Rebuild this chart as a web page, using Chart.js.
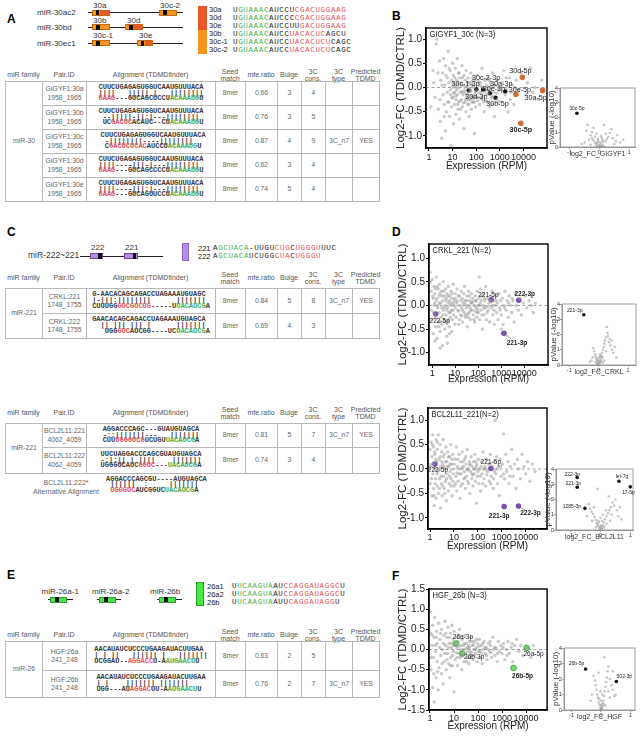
<!DOCTYPE html>
<html><head><meta charset="utf-8">
<script src="https://cdn.jsdelivr.net/npm/chart.js@4.4.1/dist/chart.umd.min.js"></script>
<style>
html,body{margin:0;padding:0;background:#fff;}
body{width:642px;height:736px;position:relative;overflow:hidden;font-family:"Liberation Sans",Arial,sans-serif;}
div{box-sizing:border-box;}
.t{position:absolute;white-space:nowrap;color:#333;}
.panel{position:absolute;font-weight:bold;font-size:12px;color:#000;line-height:12px;}
canvas{position:absolute;}
.hdr{position:absolute;font-size:7px;color:#555;text-align:center;line-height:7.5px;transform:translateX(-50%);white-space:nowrap;}
.cell{position:absolute;border:1px solid #b8b8b8;display:flex;align-items:center;justify-content:center;text-align:center;font-size:6.8px;color:#666;line-height:8.5px;}
.seq{font-family:"Liberation Mono",monospace;font-weight:bold;white-space:pre;font-size:7px;line-height:5.8px;color:#3a3a3a;text-align:left;}
.lseq{position:absolute;font-family:"Liberation Mono",monospace;white-space:pre;font-size:7.5px;line-height:8px;letter-spacing:0.65px;color:#222;}
.box{position:absolute;}
</style></head><body>
<script>
// ---------------- DATA ----------------
const xTickVals = [1, 10, 100, 1000, 10000];
const yTicksMain = [-1, -0.5, 0, 0.5, 1];
const yTicksF = [-1.5, -1, -0.5, 0, 0.5, 1, 1.5];
const volcXTicks = [-1, 0, 1];
const volcYTicks = [0, 1, 2, 3, 4];

// Panel B: GIGYF1_30c  [RPM, log2FC]
const bGrey = [[1.5,0.35],[1.8,-0.2],[2,0.9],[2.2,1.0],[2.5,-0.45],[2.8,0.55],[3,-0.7],[3.2,0.15],[3.5,-1.05],[3.8,0.3],[4,-0.15],[4.2,0.6],[4.5,-0.35],[4.8,0.05],[5,-0.9],[5,0.45],
[5.5,-0.5],[6,0.2],[6,-0.1],[6.5,0.75],[7,-0.3],[7,0.1],[7.5,-0.6],[8,0.35],[8,-0.05],[8.5,-1.2],[9,0.15],[9,-0.4],[10,0.5],[10,-0.2],[10,0.0],[11,-0.75],[11,0.25],[12,-0.1],[12,-0.35],[13,0.4],[13,0.05],[14,-0.25],[14,-0.55],[15,0.15],[15,-0.05],[16,0.6],[16,-0.15],[17,-0.45],[18,0.3],[18,-0.3],[19,0.0],[20,-0.65],[20,0.2],
[22,-0.1],[23,0.1],[24,-0.25],[25,0.45],[26,-0.4],[27,0.05],[28,-0.15],[30,-0.85],[30,0.25],[32,-0.05],[34,-0.3],[35,0.15],[37,-0.5],[38,0.35],[40,-0.2],[42,0.0],[44,-0.35],[45,0.2],[48,-0.1],[50,-0.6],[52,0.1],[55,-0.25],[58,0.3],[60,-0.05],[62,-0.45],[65,0.05],[70,-0.2],[72,0.2],[75,-0.3],[80,0.0],[85,-0.95],[88,-0.15],[90,0.15],[95,-0.4],
[105,-0.05],[110,0.25],[120,-0.2],[130,0.05],[140,-0.35],[150,0.1],[160,-0.1],[175,0.4],[180,-0.25],[200,0.0],[220,-0.5],[240,0.15],[260,-0.15],[280,0.05],[300,-0.3],[320,0.2],[350,-0.05],[380,-0.4],[400,0.1],[450,-0.2],[500,0.3],[550,-0.1],[600,-0.6],[650,0.05],[700,-0.25],[800,0.15],[900,-0.05],
[1100,-0.3],[1300,0.1],[1500,0.35],[1700,-0.15],[2000,0.0],[2200,-0.5],[2600,0.2],[3000,-0.1],[3500,0.05],[4000,-0.35],[5000,0.15],[6500,-0.05],[8000,0.3],[12000,-0.15],[15000,0.1],[20000,0.4],[25000,-0.1],[30000,0.0],[45000,-0.25],[60000,0.15],
[9.5,-0.22],[11.5,-0.12],[13.5,-0.18],[17,0.08],[21,-0.28],[24,-0.08],[29,-0.32],[33,0.02],[39,-0.14],[46,-0.26],[53,-0.02],[63,-0.17],[68,0.12],[78,-0.22],[92,-0.1],[115,-0.27],[135,-0.12],[165,0.02],[190,-0.18],[230,-0.08],[270,-0.28],[330,-0.13],[420,0.03],[520,-0.18],[750,-0.12],
[1.2,-0.4],[1.6,0.1],[2.4,0.3],[2.9,-0.25],[3.6,0.05],[4.4,-0.6],[5.2,0.25],[6.2,-0.3],[7.2,0.4],[8.2,-0.15],[10.5,0.1],[12.5,0.2],[14.5,0.0],[16.5,-0.35],[19,0.3],[22,-0.45],[26,0.2],[31,-0.1],[36,-0.25],[43,0.1],[49,-0.35],[57,-0.08],[66,-0.3],[74,0.05],[83,-0.3],[98,-0.2],[125,0.12],[155,-0.22],[210,-0.3],[290,-0.05],[360,0.15],[480,-0.35],[580,0.05],[850,-0.3],[1200,0.0],[1900,0.2],[2800,-0.25],[4500,0.0]];
const bBlackNames = ['30c-1-3p','30d-3p','30c-2-3p','30e-3p','30b-5p','30a-3p'];
const bBlackRPM = [48, 102, 196, 380, 660, 1700];
const bBlackFC = [-0.06, -0.04, -0.04, -0.12, -0.21, -0.08];
const bOrangeNames = ['30d-5p','30e-5p','30a-5p','30c-5p'];
const bOrangeRPM = [9100, 4800, 65000, 7800];
const bOrangeFC = [0.21, -0.14, -0.06, -0.74];
const bVolcGrey = [[-0.05,0.05],[0.02,0.1],[0.05,0.02],[-0.1,0.2],[0.1,0.15],[-0.15,0.3],[0.12,0.35],[-0.2,0.45],[0.2,0.4],[-0.25,0.6],[0.25,0.55],[-0.3,0.8],[0.3,0.7],[-0.1,0.9],[0.05,0.75],[-0.35,0.5],[0.35,0.95],[-0.45,1.1],[0.45,0.6],[-0.2,1.3],[0.15,1.5],[-0.5,0.3],[0.55,0.4],[0.6,0.8],[-0.6,0.2],[0.7,0.3],[0.8,0.5],[-0.05,0.55],[0.0,0.35],[-0.08,0.25],[0.08,0.6],[0.4,1.2],[-0.4,1.5],[0.5,0.2],[-0.3,0.15],[0.02,0.02],[0.1,0.45],[-0.15,0.7],[0.22,0.9],[-0.25,1.0],[-0.02,0.12],[0.04,0.25],[-0.06,0.4],[0.07,0.08],[-0.12,0.05],[0.15,0.05]];
const bVolcNames = ['30c-5p'];
const bVolcFC = [-0.76];
const bVolcP = [2.29];

// Panel D (top): CRKL_221
const dTopGrey = [[0.8,0.7],[0.85,0.5],[0.9,0.3],[0.9,-0.1],[1,0.55],[1,-0.3],[1.1,0.15],[1.1,-0.6],[1.2,0.4],[1.2,0.0],[1.3,-0.2],[1.3,0.25],[1.4,-0.45],[1.5,0.6],[1.5,0.1],[1.6,-0.7],[1.7,-0.05],[1.8,0.35],[1.8,-0.35],[2,0.2],[2,-0.15],[2.1,0.45],[2.2,-0.55],[2.3,0.05],[2.4,-0.25],[2.5,0.3],[2.6,-0.4],[2.8,0.1],[2.8,-0.85],[3,-0.1],[3,0.5],
[3.2,-0.3],[3.3,0.2],[3.5,-0.5],[3.6,0.0],[3.8,0.35],[4,-0.2],[4,0.1],[4.2,-0.65],[4.4,0.25],[4.6,-0.05],[4.8,-0.35],[5,0.4],[5,0.05],[5.3,-0.15],[5.5,-0.45],[5.8,0.2],[6,-0.25],[6.2,0.0],[6.5,0.3],[6.8,-0.1],[7,-0.55],[7.2,0.15],[7.5,-0.3],[8,0.05],[8.2,0.45],[8.5,-0.2],[9,0.1],[9.5,-0.4],[10,-0.05],[10,0.25],
[11,-0.25],[12,0.1],[12,0.35],[13,-0.1],[14,-0.4],[15,0.2],[16,0.0],[17,-0.2],[18,0.3],[19,-0.05],[20,0.15],[21,-0.35],[22,0.05],[24,-0.15],[25,0.4],[26,0.1],[28,-0.25],[30,-0.05],[32,0.2],[34,-0.45],[36,0.0],[38,0.3],[40,-0.15],[42,0.1],[45,-0.3],[48,0.05],[50,0.25],[53,-0.1],[56,0.15],[60,-0.2],[66,0.0],[70,-0.35],[74,0.2],[78,-0.05],[82,0.1],[86,-0.25],[90,0.3],[95,0.0],
[100,-0.15],[105,0.15],[110,0.6],[115,-0.3],[120,0.05],[125,0.35],[130,-0.1],[140,0.2],[150,-0.5],[160,0.0],[170,0.25],[180,-0.2],[190,0.1],[200,-0.05],[210,0.4],[230,-0.3],[250,0.15],[270,-0.1],[290,0.05],[310,-0.35],[340,0.2],[370,-0.05],[400,0.3],[430,-0.2],[460,0.1],[500,-0.4],[540,0.0],[580,0.2],[620,-0.15],[670,0.05],[720,-0.3],[780,0.25],[850,-0.05],[920,0.1],
[1000,-0.2],[1100,0.15],[1200,-0.4],[1300,0.0],[1450,0.3],[1600,-0.1],[1800,0.1],[2000,-0.25],[2200,0.2],[2500,0.0],[2800,-0.15],[3200,0.1],[3600,-0.35],[4000,0.25],[4500,0.0],[5500,-0.1],[6500,0.15],[7500,-0.2],[9000,0.05],[11000,0.2],[13000,-0.05],[16000,0.1],[20000,0.0],[25000,-0.15],[30000,0.05],
[2.2,-0.9],[4.5,-0.8],[1.3,-0.75],[5.5,-0.6],[1000,-0.5],[14,-0.12],[19,-0.22],[27,0.02],[35,-0.18],[44,-0.05],[58,0.08],[72,-0.12],[92,-0.08],[135,0.1],[175,-0.06],[260,-0.02],[330,0.08],[480,-0.1],
[1.05,0.2],[1.15,-0.15],[1.25,0.05],[1.35,0.35],[1.45,-0.25],[1.55,0.15],[1.65,0.4],[1.75,0.0],[1.9,-0.45],[2.05,0.05],[2.15,0.25],[2.35,-0.35],[2.55,-0.05],[2.7,0.2],[2.9,-0.2],[3.1,0.3],[3.4,-0.05],[3.7,-0.35],[3.9,0.15],[4.3,-0.1],[4.7,0.2],[5.1,-0.3],[5.6,0.1],[6.1,-0.15],[6.6,0.05],[7.1,0.25],[7.8,-0.1],[8.8,0.0],[9.8,0.15],[11.5,0.05],[13.5,0.2],[15.5,-0.3],[17.5,0.1],[20.5,-0.1],[23,0.25],[27,-0.2],[31,0.1],[37,-0.25],[41,0.2],[47,-0.1],[54,0.05],[64,-0.3],[76,0.1],[88,-0.15],[112,0.0],[145,-0.2],[185,0.15],[240,-0.15],[300,0.1],[420,0.0],[600,0.1],[900,-0.1],[1400,-0.05],[2100,0.05],[3000,0.15]];
const dTopNames = ['222-5p','221-5p','222-3p','221-3p'];
const dTopRPM = [1.4, 370, 5700, 1300];
const dTopFC = [-0.18, 0.12, 0.11, -0.59];
const dTopVolcGrey = [[0,0.05],[0.02,0.15],[-0.03,0.1],[0.05,0.3],[-0.05,0.25],[0.08,0.45],[-0.08,0.4],[0.1,0.6],[-0.1,0.55],[0.12,0.8],[-0.12,0.7],[0.15,1.0],[-0.15,0.9],[0.18,1.2],[-0.18,1.1],[0.2,1.4],[0.22,1.6],[0.25,1.8],[0.3,2.1],[0.35,1.5],[0.4,1.3],[0.45,1.0],[0.5,0.8],[0.28,2.5],[0.32,1.9],[0.38,1.7],[-0.2,0.5],[-0.25,0.3],[0.05,0.7],[0.0,0.5],[0.08,0.2],[-0.02,0.35],[0.14,0.5],[0.6,0.5],[0.55,1.2],[-0.3,0.2],[0.25,0.9],[0.2,0.3],[0.45,1.6],[0.15,0.15],[0.01,0.25],[-0.06,0.08],[0.04,0.12],[0.1,0.3],[-0.1,0.2],[0.06,0.55]];
const dTopVolcNames = ['221-3p'];
const dTopVolcFC = [-0.5];
const dTopVolcP = [3.3];

// Panel D (bottom): BCL2L11_221
const dBotGrey = [[1,0.4],[1,-0.3],[1.1,0.55],[1.1,0.1],[1.2,-0.55],[1.2,0.25],[1.3,-0.1],[1.3,0.7],[1.4,0.45],[1.4,-0.4],[1.5,0.0],[1.5,-0.75],[1.6,0.3],[1.7,-0.2],[1.8,0.6],[1.8,-0.6],[1.9,0.15],[2,-0.35],[2,0.4],[2.1,-0.05],[2.2,0.7],[2.3,-0.5],[2.4,0.2],[2.5,-0.2],[2.6,0.5],[2.7,-0.8],[2.8,0.05],[3,-0.3],[3,0.35],
[3.2,-0.55],[3.4,0.1],[3.5,0.6],[3.7,-0.15],[3.9,-0.4],[4,0.3],[4.2,0.0],[4.4,-0.25],[4.6,0.45],[4.8,-0.65],[5,0.15],[5.2,-0.1],[5.5,0.35],[5.8,-0.45],[6,0.05],[6.3,-0.3],[6.6,0.25],[7,-0.05],[7.3,0.5],[7.6,-0.2],[8,0.1],[8.4,-0.55],[8.8,0.3],[9.2,-0.1],[9.6,0.0],[10,-0.35],
[11,0.2],[12,-0.15],[12.5,0.45],[13,-0.45],[14,0.05],[15,-0.25],[16,0.3],[17,0.0],[18,-0.6],[19,0.15],[20,-0.1],[22,0.35],[23,-0.3],[25,0.05],[27,-0.05],[28,0.2],[30,-0.4],[32,0.1],[34,-0.15],[36,0.4],[38,-0.25],[40,0.0],[43,0.15],[46,-0.5],[49,-0.05],[52,0.25],[55,-0.2],[58,0.05],[62,-0.35],[66,0.15],[70,-0.1],[74,0.3],[78,-0.25],[82,0.0],[88,-0.7],[92,0.1],[96,-0.15],
[105,0.2],[110,-0.3],[120,0.0],[130,-0.45],[140,0.15],[150,-0.1],[165,0.35],[180,-0.2],[195,0.05],[210,-0.35],[230,0.2],[250,-0.05],[275,0.1],[300,-0.25],[330,0.3],[360,-0.15],[400,0.05],[440,-0.4],[480,0.15],[520,1.0],[560,-0.1],[610,0.25],[660,-0.3],[720,0.05],[790,-0.55],[860,0.2],[940,-0.15],
[1050,0.1],[1170,0.72],[1300,-0.2],[1450,0.3],[1600,-0.05],[1800,0.15],[2000,-0.3],[2300,0.05],[2600,0.4],[3000,-0.15],[3400,0.1],[3900,-0.4],[4500,0.2],[5200,0.0],[6000,-0.2],[7000,0.3],[8500,0.05],[10000,-0.1],[12000,0.15],[15000,-0.25],[19000,0.1],[25000,-0.05],
[13.5,-0.08],[21,0.02],[29,-0.18],[37,-0.02],[45,0.08],[60,-0.12],[85,0.05],[125,-0.15],[170,0.0],[240,-0.12],[350,-0.3],[500,-0.05],
[1.05,0.05],[1.15,-0.2],[1.25,0.5],[1.35,0.1],[1.45,-0.55],[1.55,0.35],[1.65,-0.3],[1.75,0.2],[1.95,-0.1],[2.05,0.55],[2.25,0.0],[2.45,-0.4],[2.65,0.25],[2.9,-0.15],[3.1,0.15],[3.3,-0.35],[3.6,0.25],[3.8,0.05],[4.1,-0.5],[4.5,0.15],[4.9,-0.2],[5.4,0.05],[5.9,0.25],[6.4,-0.15],[6.9,0.1],[7.5,-0.35],[8.2,0.2],[9,-0.25],[10.5,0.1],[11.5,-0.3],[14.5,0.2],[16.5,-0.1],[19.5,-0.35],[24,0.15],[26,-0.2],[31,0.25],[35,0.0],[41,-0.3],[48,0.1],[57,-0.1],[68,0.0],[80,0.15],[100,-0.05],[135,0.05],[160,-0.3],[220,0.0],[320,0.1],[450,-0.2],[650,0.0],[900,0.05],[1200,-0.1],[2200,-0.15]];
const dBotNames = ['222-5p','221-5p','221-3p','222-3p'];
const dBotRPM = [1.6, 350, 1260, 5000];
const dBotFC = [0.10, 0.01, -0.77, -0.76];
const dBotVolcGrey = [[0,0.05],[0.03,0.15],[-0.04,0.12],[0.07,0.3],[-0.08,0.28],[0.1,0.5],[-0.12,0.45],[0.15,0.7],[-0.16,0.65],[0.2,0.9],[-0.2,0.85],[0.25,1.1],[-0.25,1.05],[0.3,1.3],[-0.3,1.2],[0.35,1.5],[-0.35,1.4],[0.4,1.8],[0.45,1.6],[0.5,2.0],[-0.4,1.7],[0.55,1.3],[0.6,0.9],[-0.05,0.5],[0.05,0.6],[0.12,0.25],[-0.15,0.2],[0.2,0.4],[-0.22,1.5],[0.32,0.6],[-0.1,2.7],[0.38,1.0],[-0.28,0.6],[0.0,0.8],[0.08,1.0],[0.18,1.3],[0.28,2.2],[-0.45,0.9],[0.65,1.5],[0.7,0.7],[0.02,0.3],[-0.02,0.2],[0.05,0.08],[-0.07,0.6],[0.1,0.15],[-0.1,0.35]];
const dBotVolcNames = ['222-3p','221-3p','1285-3p','let-7g','17-5p'];
const dBotVolcFC = [-0.78, -0.78, -0.52, 0.62, 1.0];
const dBotVolcP = [3.44, 2.8, 1.42, 3.2, 2.83];

// Panel F: HGF_26b
const fGrey = [[1,0.95],[1.1,0.4],[1.1,-0.5],[1.2,0.1],[1.3,-0.95],[1.3,0.6],[1.4,-0.2],[1.5,0.3],[1.5,-1.3],[1.6,0.8],[1.7,-0.05],[1.8,-0.7],[1.9,0.45],[2,-0.3],[2,0.15],[2.2,-1.0],[2.3,0.65],[2.4,-0.45],[2.6,0.25],[2.8,-0.15],[3,0.5],[3,-0.6],
[3.3,0.0],[3.5,-0.85],[3.7,0.35],[4,-0.3],[4.2,0.7],[4.5,0.1],[4.8,-0.5],[5,0.3],[5.3,-0.1],[5.6,0.55],[6,-0.35],[6.3,0.15],[6.7,-0.7],[7,0.4],[7.4,-0.2],[7.8,0.05],[8.2,0.6],[8.6,-0.4],[9,0.25],[9.5,-0.05],[10,0.45],[10,-1.05],
[11,-0.25],[12,0.3],[13,0.05],[14,-0.4],[15,0.2],[16,-0.1],[17,0.5],[18,-0.2],[19,0.1],[21,-0.5],[22,0.25],[24,0.0],[26,-0.3],[28,0.35],[30,-0.1],[32,0.15],[35,-0.2],[38,0.05],[41,-0.35],[44,0.2],[47,-0.05],[50,0.3],[54,-0.15],[58,0.1],[62,-0.25],[67,0.0],[72,0.2],[78,-0.1],[84,0.05],[90,-0.3],[96,0.15],
[105,-0.05],[115,0.25],[125,-0.2],[135,0.1],[150,-0.35],[165,0.0],[180,0.2],[200,-0.1],[220,0.05],[240,-0.25],[270,0.15],[300,-0.05],[330,0.1],[370,-0.2],[410,0.3],[450,0.0],[500,-0.15],[560,0.05],[620,-0.3],[700,0.2],[780,-0.05],[870,0.1],
[1000,-0.1],[1150,0.15],[1300,-0.25],[1500,0.0],[1750,0.2],[2000,-0.1],[2400,0.05],[2800,-0.3],[3300,0.1],[4000,0.25],[5000,-0.05],[6000,0.1],[7500,-0.15],[9000,0.0],[12000,0.05],[16000,-0.2],[20000,0.1],
[12.5,-0.08],[15.5,0.08],[20,-0.12],[25,0.1],[31,0.02],[36,-0.05],[43,0.05],[52,-0.08],[65,0.12],[80,0.0],[110,0.08],[145,-0.1],[190,0.05],[260,0.0],[350,-0.08],
[1.05,-0.2],[1.25,0.35],[1.45,-0.6],[1.65,0.1],[1.85,0.3],[2.1,-0.55],[2.5,0.05],[2.7,0.4],[3.2,-0.35],[3.6,0.15],[4.1,-0.1],[4.6,0.4],[5.1,-0.25],[5.8,0.05],[6.5,0.3],[7.2,-0.4],[8,0.15],[8.8,-0.15],[9.7,0.1],[11.5,0.15],[13.5,-0.2],[16.5,0.35],[18.5,0.0],[23,-0.15],[27,0.15],[33,-0.3],[40,0.1],[46,-0.2],[56,0.2],[70,-0.15],[88,0.25],[120,-0.05],[160,0.15],[230,-0.15],[320,0.2],[480,0.05],[650,-0.1],[1100,0.05],[1600,-0.15],[2600,0.15]];
const fNames = ['26a-3p','26b-3p','26a-5p','26b-5p'];
const fRPM = [12, 22, 10500, 3000];
const fFC = [0.15, -0.10, 0.04, -0.46];
const fVolcGrey = [[0,0.05],[0.02,0.2],[-0.03,0.15],[0.05,0.4],[-0.05,0.35],[0.08,0.6],[-0.08,0.5],[0.1,0.9],[-0.1,0.8],[0.12,1.2],[-0.12,1.0],[0.15,1.5],[-0.15,1.3],[0.18,1.8],[-0.18,1.6],[0.2,2.1],[-0.2,1.9],[0.22,2.5],[0.25,2.8],[0.11,3.4],[-0.25,2.2],[0.3,2.0],[0.35,1.6],[0.4,1.3],[-0.3,1.0],[0.05,1.0],[0.0,0.6],[-0.02,1.2],[0.3,0.8],[0.45,0.9],[-0.35,0.6],[0.15,0.3],[0.25,1.2],[-0.08,2.4],[0.4,2.5],[0.5,1.0],[0.01,0.1],[-0.01,0.3],[0.03,0.05],[0.07,0.25],[-0.06,0.7],[0.09,0.4]];
const fVolcNames = ['26b-5p','502-3p'];
const fVolcFC = [-0.52, 0.52];
const fVolcP = [2.64, 1.84];

// Tables
const hdrs = ['miR family','Pair.ID','Alignment (TDMDfinder)','Seed<br>match','mfe.ratio','Bulge','3C<br>cons.','3C<br>type','Predicted<br>TDMD'];
const tableA = [['GIGYF1:30a','1958_1965','8mer','0.66','3','4','',''],['GIGYF1:30b','1958_1965','8mer','0.76','3','5','',''],['GIGYF1:30c','1958_1965','8mer','0.87','4','9','3C_n7','YES'],['GIGYF1:30d','1958_1965','8mer','0.62','3','4','',''],['GIGYF1:30e','1958_1965','8mer','0.74','5','4','','']];
const alnA = [
 ['CUUCUGAGAGUGGUCAAUGUUUACA','||||   ||||| |   ||||||||','[r:GAAG]---GUCAGCUCCU[g:ACAAAUG]U'],
 ['CUUCUGAGAGUGGUCAAUGUUUACA',' --|||||-||:|---||||||||',' UC[r:GACUC]ACAUC--CU[g:ACAAAUG]U'],
 [' CUUCUGAGAGUGGUCAAUGUUUACA','  -||||||||----||||||||','  C[r:GACUCUCAC]AUCCU[g:ACAAAUG]U'],
 ['CUUCUGAGAGUGGUCAAUGUUUACA','||||----|||-|---||||||||','[r:GAAG]---GUCAGCCCCU[g:ACAAAUG]U'],
 ['CUUCUGAGAGUGGUCAAUGUUUACA','||||----|||:|---||||||||','[r:GAAG]---GUCAGUUCCU[g:ACAAAUG]U']];
const tableC = [['CRKL:221','1748_1755','8mer','0.84','5','8','3C_n7','YES'],['CRKL:222','1748_1755','8mer','0.69','4','3','','']];
const alnC = [
 ['G-AACACAGCAGACCUAGAAAUGUAGC','|-|||:||||||||      |||||||','CUUUGG[r:GUCGUCUG]-----U[g:UACAUCG]A'],
 ['GAACACAGCAGACCUAGAAAUGUAGCA','  || ||| ||| |      |||||||','   UGG[r:GUC]AUCGG----UC[g:UACAUCG]A']];
const tableD = [['BCL2L11:221','4062_4059','8mer','0.81','5','7','3C_n7','YES'],['BCL2L11:222','4062_4059','8mer','0.74','3','4','','']];
const alnD = [
 ['AGGACCCAGC---GUAUGUAGCA','-::|||||||---   |||||||','CUU[r:UGGGUCG]UCUGU[g:UACAUCG]A'],
 ['UUCUAGGACCCAGCGUAUGUAGCA','-:|:|| | ||||    |||||||','UGGGUCAUC[r:GGUC]---[g:UACAUCG]A']];
const alnAlt = ['AGGACCCAGCGU----AUGUAGCA',' ||||||  :     |||||||',' [r:UGGGUC]AUCGGUC[g:UACAUCG]A'];
const tableE = [['HGF:26a','241_248','8mer','0.63','2','5','',''],['HGF:26b','241_248','8mer','0.76','2','7','3C_n7','YES']];
const alnE = [
 ['AACAUAUCUCCCUGAAGAUACUUGAA','| | ||   |||||| |   |||||||','UCGGAU--[r:AGGACC]U-A[g:AUGAACU]U'],
 ['AACAUAUCUCCCUGAAGAUACUUGAA','| |    ||||||| |||||||','UGG---AU[r:AGGAC]UU-A[g:AUGAACU]U']];

// Mature sequence legends
const seqA = [['30a','U[g:GUAAAC]AUCCU[r:CGACUGGAAG]'],['30d','U[g:GUAAAC]AUCCC[r:CGACUGGAAG]'],['30e','U[g:GUAAAC]AUCCUU[r:GACUGGAAG]'],['30b','U[g:GUAAAC]AUCC[r:UACACUC]AGCU'],['30c-1','U[g:GUAAAC]AUCC[r:UACACUCU]CAGC'],['30c-2','U[g:GUAAAC]AUCC[r:UACACUCU]CAGC']];
const seqC = [['221','A[g:GCUACA]-UUGU[r:CUG]C[r:UGGGU]UUC'],['222','A[g:GCUACA]UCUGG[r:CUA]C[r:UGGGU]']];
const seqE = [['26a1','U[g:UCAAGUA]AU[r:CCAGGAUAGGC]U'],['26a2','U[g:UCAAGUA]AU[r:CCAGGAUAGGC]U'],['26b','U[g:UCAAGUA]AUU[r:CAGGAUAGG]U']];

// ---------------- LAYOUT / STYLE ----------------
const FONT = '"Liberation Sans", Arial, sans-serif';
const RED = '#e2505c', GREEN = '#49ad4e';
const ORANGE_PT = '#cf6d34', PURPLE_PT = '#7a52b0';
const colX = [5, 42, 86, 215, 245, 277, 301, 325, 352, 379];

function mk(s){ return s.replace(/\[(r|g):([^\]]+)\]/g,(m,c,t)=>'<span style="color:'+(c==='r'?RED:GREEN)+'">'+t+'</span>'); }
function div(cls, style, html){ const d=document.createElement('div'); if(cls) d.className=cls; Object.assign(d.style, style); if(html!==undefined) d.innerHTML=html; document.body.appendChild(d); return d; }
function px(v){ return v+'px'; }
function alnHTML(a){ return '<div class="seq">'+a.map(l=>'<div>'+mk(l)+'</div>').join('')+'</div>'; }

function table(hy, ys, fam, rows, alns){
  hdrs.forEach((h,i)=>{
    const cx=(colX[i]+colX[i+1])/2, two=h.indexOf('<br>')>=0;
    div('hdr',{left:px(cx),top:px(hy-(two?7.5:3.75))},h);
  });
  div('cell',{left:px(colX[0]),top:px(ys[0]),width:px(colX[1]-colX[0]+1),height:px(ys[ys.length-1]-ys[0]+1)},fam);
  rows.forEach((r,ri)=>{
    const vals=[r[0]+'<br>'+r[1], alnHTML(alns[ri]), r[2], r[3], r[4], r[5], r[6], r[7]];
    vals.forEach((v,ci)=>{
      const c=ci+1;
      div('cell',{left:px(colX[c]),top:px(ys[ri]),width:px(colX[c+1]-colX[c]+1),height:px(ys[ri+1]-ys[ri]+1)},v);
    });
  });
}
function text(x,y,s,size,extra){ return div('t',Object.assign({left:px(x),top:px(y-size*0.6),fontSize:px(size),lineHeight:px(size*1.2)},extra||{}),s); }
function hline(x1,x2,y,c){ div('box',{left:px(x1),top:px(y-0.5),width:px(x2-x1),height:'1px',background:c||'#222'}); }
function rect(x,y,w,h,bg,border){ return div('box',{left:px(x),top:px(y),width:px(w),height:px(h),background:bg,border:border||'none'}); }
function seqLines(nameX, seqX, y0, dy, list, nameSize){
  list.forEach((s,i)=>{
    const y=y0+i*dy;
    text(nameX,y,s[0],nameSize||7.5,{color:'#222'});
    div('lseq',{left:px(seqX),top:px(y-4)},mk(s[1]));
  });
}

// Panel letters
[['A',7,13],['B',392,10],['C',7,226],['D',392,226],['E',7,569],['F',392,570]].forEach(p=>div('panel',{left:px(p[1]),top:px(p[2])},p[0]));

// ---- Panel A gene diagrams ----
const OR='#f7941d', RO='#e8562a';
function gene30(x,y,w,red){
  rect(x,y-3,w,6,OR,'0.5px solid #c46a0c');
  if(red) rect(x+8,y-2,w-9,4,RO);
  rect(x+4,y-2.5,3.8,5,'#111');
}
[['miR-30ac2',12.7],['miR-30bd',27.3],['miR-30ec1',43.3]].forEach(r=>{ text(37,r[1],r[0],8,{color:'#333'}); hline(88,183,r[1]); });
gene30(91.7,12.7,18.3,true); gene30(159.3,12.7,17.3,false);
gene30(92,27.3,18,false); gene30(125,27.3,18,true);
gene30(92,43.3,18,false); gene30(136.7,43.3,16.5,true);
[['30a',93,5.5],['30c-2',160,5.5],['30b',93,20.5],['30d',127,20.5],['30c-1',93,36],['30e',139,36]].forEach(l=>text(l[1],l[2],l[0],8,{color:'#333'}));
rect(198.3,5.5,9,24,RO); rect(198.3,29.5,9,24,OR);
seqLines(209,233,9.5,8,seqA,7.5);

// ---- Panel C gene diagram ----
text(28,255,'miR-222~221',8.5,{color:'#333'});
hline(80,163,256);
rect(90,252.5,13.3,6.5,'#b48ae4','0.6px solid #6d4b99'); rect(98.3,253,3.4,5.5,'#111');
rect(124,252.5,14.3,6.5,'#b48ae4','0.6px solid #6d4b99'); rect(132.7,253,3.4,5.5,'#111');
text(91,247.5,'222',8,{color:'#333'}); text(125,247.5,'221',8,{color:'#333'});
rect(181.7,243,7.8,18,'#b68ee8','0.6px solid #8c67c0');
seqLines(198,213,248,8,seqC,7.5);

// ---- Panel E gene diagrams ----
function gene26(label,lx,lineX1,lineX2,bx,bw){
  text(lx,592,label,8,{color:'#333'});
  hline(lineX1,lineX2,599.3);
  rect(bx,596.5,bw,6,'#4fe04f','0.6px solid #2f9a2f');
  rect(bx+5,597,3.6,5,'#111');
}
gene26('miR-26a-1',41.5,48.3,73.3,50,16.7);
gene26('miR-26a-2',92,97.3,120.7,99,16.7);
gene26('miR-26b',150,156.7,181.7,159.3,16.7);
rect(196,581.5,8,24,'#44ea44','0.6px solid #2c9c2c');
seqLines(207,232,586,8,seqE,7.5);

// ---- Tables ----
table(75, [81,105,129,153,177,201], 'miR-30', tableA, alnA);
table(278, [288,313,338], 'miR-221', tableC, alnC);
table(413, [423,447,473], 'miR-221', tableD, alnD);
div('t',{left:'25px',top:'479px',width:'82px',textAlign:'center',fontSize:'7px',lineHeight:'8.5px',color:'#666'},'BCL2L11:222*<br>Alternative Alignment');
div('t',{left:'106px',top:'476.5px'},alnHTML(alnAlt));
table(635, [641,670,697], 'miR-26', tableE, alnE);

// ---------------- CHARTS ----------------
let plugN = 0;
function makeCanvas(left, top, W, H){
  const cv=document.createElement('canvas');
  cv.width=W; cv.height=H;
  Object.assign(cv.style,{left:px(left),top:px(top),width:px(W),height:px(H)});
  document.body.appendChild(cv);
  return cv;
}
function overlay(o){
  plugN++;
  return {
    id:'ov'+plugN,
    beforeDatasetsDraw(chart){
      if(!o.zero) return;
      const {ctx, chartArea:a, scales:{y}} = chart;
      const py=y.getPixelForValue(0);
      ctx.save(); ctx.strokeStyle='#8a8a8a'; ctx.lineWidth=0.8; ctx.setLineDash([3,2.5]);
      ctx.beginPath(); ctx.moveTo(a.left,py); ctx.lineTo(a.right,py); ctx.stroke(); ctx.restore();
    },
    afterDatasetsDraw(chart){
      const {ctx, chartArea:a, scales:{x,y}} = chart;
      ctx.save();
      ctx.strokeStyle=o.frameColor; ctx.lineWidth=o.frameWidth;
      ctx.strokeRect(a.left, a.top, a.right-a.left, a.bottom-a.top);
      if(o.title){
        ctx.save(); ctx.fillStyle='#222'; ctx.font=o.titleSize+'px '+FONT; ctx.textBaseline='top'; ctx.textAlign='left';
        ctx.translate(a.left+3.5, a.top+2); ctx.scale(0.8,1); ctx.fillText(o.title,0,0); ctx.restore();
      }
      (o.labels||[]).forEach(l=>{
        const pxv=x.getPixelForValue(l.x), pyv=y.getPixelForValue(l.y);
        if(l.leader){ ctx.strokeStyle='#555'; ctx.lineWidth=0.6; ctx.beginPath(); ctx.moveTo(pxv,pyv); ctx.lineTo(pxv+l.dx*0.55,pyv+l.dy*0.55); ctx.stroke(); }
        ctx.font=(l.bold?'bold ':'')+o.labelSize+'px '+FONT;
        ctx.fillStyle='#1a1a1a'; ctx.textAlign='center'; ctx.textBaseline='middle';
        ctx.fillText(l.name, pxv+l.dx, pyv+l.dy);
      });
      ctx.restore();
    }
  };
}
function buildLabels(names, xs, ys, pos){
  return names.map((n,i)=>{ const p=pos[n]||[0,-6,0,0]; return {name:n,x:xs[i],y:ys[i],dx:p[0],dy:p[1],bold:!!p[2],leader:!!p[3]}; });
}

function mainChart(c){
  const yw=46, xh=36, padT=8, padR=4;
  const left=Math.round(c.area.l-yw), top=Math.round(c.area.t-padT);
  const W=Math.round(c.area.r+padR)-left, H=Math.round(c.area.b+xh)-top;
  const cv=makeCanvas(left,top,W,H);
  const tickFont=9, tY=11.5, tX=10;
  const datasets=[{data:c.grey.map(p=>({x:p[0],y:p[1]})), backgroundColor:'rgba(150,150,150,0.5)', pointRadius:1.7, borderWidth:0}];
  c.hi.forEach(h=>datasets.push({data:h.x.map((v,i)=>({x:v,y:h.y[i]})), backgroundColor:h.color, borderColor:h.border||h.color, borderWidth:h.border?0.9:0, pointRadius:h.r||2.6}));
  new Chart(cv,{type:'scatter',data:{datasets},options:{
    responsive:false, animation:false, devicePixelRatio:1, events:[],
    layout:{padding:{left:0,top:padT,right:padR,bottom:0}},
    plugins:{legend:{display:false},tooltip:{enabled:false}},
    scales:{
      x:{type:'logarithmic',bounds:'data',min:c.xMin,max:c.xMax,
        afterBuildTicks:s=>{s.ticks=xTickVals.map(v=>({value:v}));},
        afterFit:s=>{s.height=xh;},
        ticks:{autoSkip:false,maxRotation:0,minRotation:0,font:{size:tickFont,family:FONT},color:'#222',padding:Math.max(0,c.xLabelTop-c.area.b-3),callback:v=>String(v)},
        grid:{drawOnChartArea:false,drawTicks:true,tickLength:3,color:'#000',lineWidth:1},
        border:{display:true,color:'#000',width:1.4},
        title:{display:true,text:'Expression (RPM)',color:'#222',font:{size:tX,family:FONT},padding:{top:0,bottom:(top+H)-c.xTitleY-tX*0.6}}
      },
      y:{type:'linear',bounds:'data',min:c.yMin,max:c.yMax,
        afterBuildTicks:s=>{s.ticks=c.yTicks.map(v=>({value:v}));},
        afterFit:s=>{s.width=yw;},
        ticks:{font:{size:10,family:FONT},color:'#222',padding:1,callback:v=>v.toFixed(1)},
        grid:{drawOnChartArea:false,drawTicks:true,tickLength:3,color:'#000',lineWidth:1},
        border:{display:true,color:'#000',width:1.4},
        title:{display:true,text:'Log2-FC (TDMD/CTRL)',color:'#222',font:{size:tY,family:FONT},padding:{top:c.yTitleX-left-tY*0.6,bottom:0}}
      }
    }},
    plugins:[overlay({zero:true,frameColor:'#000',frameWidth:1.4,title:c.title,titleSize:9.5,labels:c.labels,labelSize:c.labelSize})]
  });
}

function volcChart(c){
  const yw=16, xh=16, padT=5, padR=3;
  const left=Math.round(c.area.l-yw), top=Math.round(c.area.t-padT);
  const W=Math.round(c.area.r+padR)-left, H=Math.round(c.area.b+xh)-top;
  const cv=makeCanvas(left,top,W,H);
  const datasets=[
    {data:c.grey.map(p=>({x:p[0],y:p[1]})), backgroundColor:'rgba(160,160,160,0.6)', pointRadius:1.3, borderWidth:0},
    {data:c.hx.map((v,i)=>({x:v,y:c.hy[i]})), backgroundColor:'#111', pointRadius:1.8, borderWidth:0}
  ];
  new Chart(cv,{type:'scatter',data:{datasets},options:{
    responsive:false, animation:false, devicePixelRatio:1, events:[],
    layout:{padding:{left:0,top:padT,right:padR,bottom:0}},
    plugins:{legend:{display:false},tooltip:{enabled:false}},
    scales:{
      x:{type:'linear',bounds:'data',min:c.xMin,max:c.xMax,
        afterBuildTicks:s=>{s.ticks=volcXTicks.map(v=>({value:v}));},
        afterFit:s=>{s.height=xh;},
        ticks:{autoSkip:false,maxRotation:0,font:{size:6,family:FONT},color:'#444',padding:0,callback:v=>String(v)},
        grid:{drawOnChartArea:false,drawTicks:true,tickLength:2,color:'#777',lineWidth:0.7},
        border:{display:true,color:'#888',width:0.8},
        title:{display:true,text:c.xTitle,color:'#333',font:{size:7,family:FONT},padding:{top:0,bottom:(top+H)-(c.area.b+8)-3.5}}
      },
      y:{type:'linear',bounds:'data',min:0,max:4,
        afterBuildTicks:s=>{s.ticks=volcYTicks.map(v=>({value:v}));},
        afterFit:s=>{s.width=yw;},
        ticks:{font:{size:6,family:FONT},color:'#444',padding:0,callback:v=>String(v)},
        grid:{drawOnChartArea:false,drawTicks:true,tickLength:2,color:'#777',lineWidth:0.7},
        border:{display:true,color:'#888',width:0.8},
        title:{display:true,text:'pValue (-log10)',color:'#333',font:{size:8,family:FONT},padding:{top:(c.area.l-8)-left-4.8,bottom:0}}
      }
    }},
    plugins:[overlay({zero:false,frameColor:'#888',frameWidth:0.8,labels:c.labels,labelSize:5})]
  });
}

// Label placement (pixel offsets from point: dx, dy, bold, leader)
const labelPos = {
  B:{'30c-1-3p':[-3,-6],'30d-3p':[0,8],'30c-2-3p':[3,-11],'30e-3p':[4,-4],'30b-5p':[2,6],'30a-3p':[-4,-7],'30d-5p':[-2,-6],'30e-5p':[4,-4],'30a-5p':[-7,8],'30c-5p':[0,7,1]},
  Dt:{'222-5p':[4,7],'221-5p':[-3,-5],'222-3p':[6,-6,1],'221-3p':[13,10,1,1]},
  Db:{'222-5p':[3,6],'221-5p':[0,-6],'221-3p':[-5,10,1],'222-3p':[12,7,1,1]},
  F:{'26a-3p':[7,-6],'26b-3p':[12,4],'26a-5p':[7,6],'26b-5p':[9,8,1]},
  vB:{'30c-5p':[0,-5]},
  vDt:{'221-3p':[-9,-4]},
  vDb:{'222-3p':[-5,-3],'221-3p':[-4,-3.5],'1285-3p':[-13,-2],'let-7g':[3,-4.5],'17-5p':[-2,6]},
  vF:{'26b-5p':[-9,-5],'502-3p':[8,-5]}
};

mainChart({area:{l:426,r:547,t:28,b:148},xMin:0.75,xMax:1e5,yMin:-1.25,yMax:1.23,yTicks:yTicksMain,yTitleX:401,xLabelTop:152,xTitleY:166,
  title:'GIGYF1_30c (N=3)',grey:bGrey,labelSize:7.2,
  hi:[{x:bBlackRPM,y:bBlackFC,color:'#111',r:2.2},{x:bOrangeRPM,y:bOrangeFC,color:ORANGE_PT,r:2.8}],
  labels:buildLabels(bBlackNames,bBlackRPM,bBlackFC,labelPos.B).concat(buildLabels(bOrangeNames,bOrangeRPM,bOrangeFC,labelPos.B))});
volcChart({area:{l:560,r:636,t:88,b:147},xMin:-1.33,xMax:1.2,xTitle:'log2_FC_GIGYF1',grey:bVolcGrey,hx:bVolcFC,hy:bVolcP,
  labels:buildLabels(bVolcNames,bVolcFC,bVolcP,labelPos.vB)});

mainChart({area:{l:429,r:548,t:244,b:365},xMin:0.72,xMax:1.07e5,yMin:-1.26,yMax:1.30,yTicks:yTicksMain,yTitleX:403,xLabelTop:367,xTitleY:379.5,
  title:'CRKL_221 (N=2)',grey:dTopGrey,labelSize:6.5,
  hi:[{x:dTopRPM,y:dTopFC,color:PURPLE_PT,r:2.8}],
  labels:buildLabels(dTopNames,dTopRPM,dTopFC,labelPos.Dt)});
volcChart({area:{l:562,r:637,t:304,b:365},xMin:-1.24,xMax:1.27,xTitle:'log2_FC_CRKL',grey:dTopVolcGrey,hx:dTopVolcFC,hy:dTopVolcP,
  labels:buildLabels(dTopVolcNames,dTopVolcFC,dTopVolcP,labelPos.vDt)});

mainChart({area:{l:428,r:547,t:408,b:529},xMin:0.82,xMax:7.8e4,yMin:-1.23,yMax:1.25,yTicks:yTicksMain,yTitleX:402.5,xLabelTop:532,xTitleY:546,
  title:'BCL2L11_221(N=2)',grey:dBotGrey,labelSize:6.5,
  hi:[{x:dBotRPM,y:dBotFC,color:PURPLE_PT,r:2.8}],
  labels:buildLabels(dBotNames,dBotRPM,dBotFC,labelPos.Db)});
volcChart({area:{l:556,r:634,t:469,b:530},xMin:-1.49,xMax:1.09,xTitle:'log2_FC_BCL2L11',grey:dBotVolcGrey,hx:dBotVolcFC,hy:dBotVolcP,
  labels:buildLabels(dBotVolcNames,dBotVolcFC,dBotVolcP,labelPos.vDb)});

mainChart({area:{l:429,r:548,t:589,b:710},xMin:0.91,xMax:7.5e4,yMin:-1.5,yMax:1.5,yTicks:yTicksF,yTitleX:403,xLabelTop:712,xTitleY:726,
  title:'HGF_26b (N=3)',grey:fGrey,labelSize:6.5,
  hi:[{x:fRPM,y:fFC,color:'#72dc6e',border:'#3c9e3c',r:2.8}],
  labels:buildLabels(fNames,fRPM,fFC,labelPos.F)});
volcChart({area:{l:564,r:636,t:648,b:710},xMin:-1.25,xMax:1.15,xTitle:'log2_FC_HGF',grey:fVolcGrey,hx:fVolcFC,hy:fVolcP,
  labels:buildLabels(fVolcNames,fVolcFC,fVolcP,labelPos.vF)});
</script>
</body></html>
